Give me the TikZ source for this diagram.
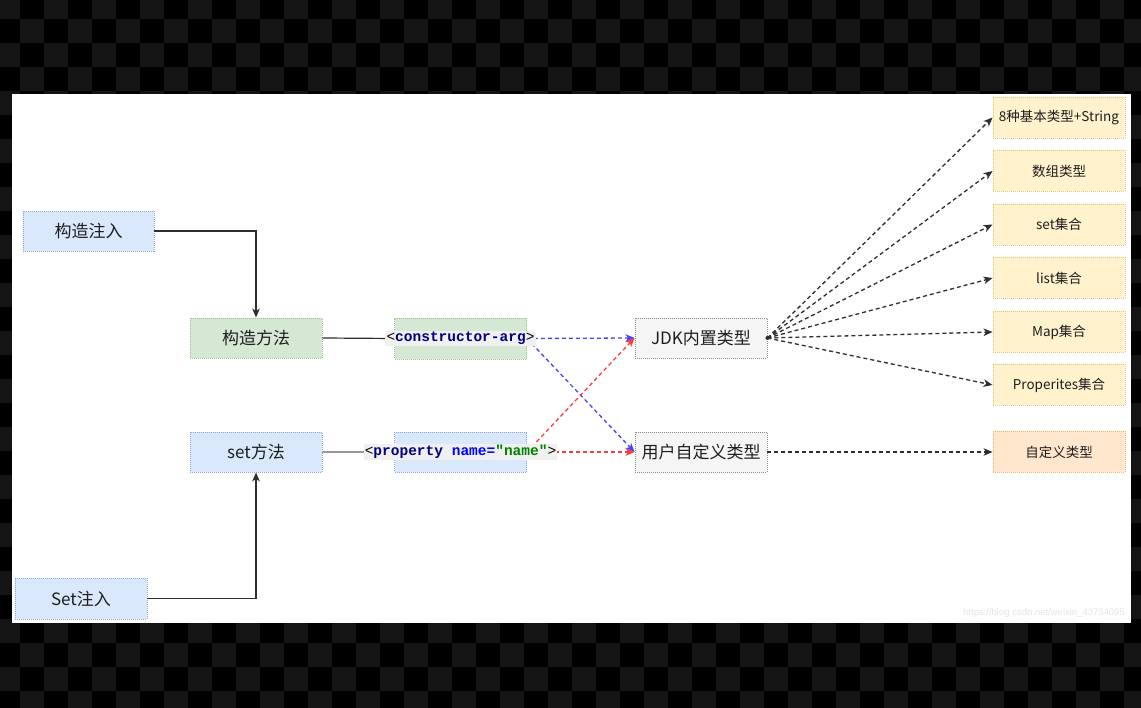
\documentclass[tikz,border=0pt]{standalone}
\usepackage{fontspec}
\setmainfont{Noto Sans CJK SC}
\newfontfamily\codefont{Liberation Mono}
\newfontfamily\webfont{Liberation Sans}
\usetikzlibrary{arrows.meta}

\definecolor{checkdark}{HTML}{000000}
\definecolor{checklight}{HTML}{141414}
\definecolor{bluefill}{HTML}{DAE8FC}
\definecolor{blueline}{HTML}{8EA9D6}
\definecolor{greenfill}{HTML}{D5E8D4}
\definecolor{greenline}{HTML}{9CC58A}
\definecolor{grayfill}{HTML}{F5F5F5}
\definecolor{grayline}{HTML}{8A8A8A}
\definecolor{yellowfill}{HTML}{FFF2CC}
\definecolor{yellowline}{HTML}{E3C878}
\definecolor{peachfill}{HTML}{FFE6CC}
\definecolor{peachline}{HTML}{EDB96A}
\definecolor{textc}{HTML}{1E1E1E}
\definecolor{linec}{HTML}{2E2E2E}
\definecolor{bluedashc}{HTML}{4444FF}
\definecolor{reddashc}{HTML}{FF3B3B}
\definecolor{codebg}{HTML}{F0F0F0}
\definecolor{codenavy}{HTML}{000080}
\definecolor{codeblue}{HTML}{0000FF}
\definecolor{codegreen}{HTML}{008000}
\definecolor{markc}{HTML}{E4E4E4}

\tikzset{
  box/.style={draw, line width=0.9pt, dash pattern=on 1pt off 1pt,
    minimum width=132pt, minimum height=40pt, inner sep=0pt,
    text=textc, font=\fontsize{17}{20}\selectfont},
  bluebox/.style={box, fill=bluefill, draw=blueline},
  greenbox/.style={box, fill=greenfill, draw=greenline},
  graybox/.style={box, fill=grayfill, draw=grayline},
  typebox/.style={box, fill=yellowfill, draw=yellowline, minimum height=41pt,
    font=\fontsize{13.5}{16}\selectfont},
  ownbox/.style={typebox, fill=peachfill, draw=peachline},
  codelabel/.style={fill=codebg, inner sep=1.2pt, text=black,
    font=\codefont\fontsize{14.5}{16}\selectfont},
  tip/.style={-{Stealth[length=9pt,width=7.5pt,inset=2.5pt]}},
  flow/.style={draw=linec, line width=1.3pt, tip},
  link/.style={draw=linec, line width=1.2pt},
  dashlink/.style={line width=1.3pt, dash pattern=on 4pt off 3pt, tip},
  bluedash/.style={dashlink, draw=bluedashc, -{Stealth[length=9pt,width=7.5pt,inset=2.5pt,fill=bluedashc]}},
  reddash/.style={dashlink, draw=reddashc, -{Stealth[length=9pt,width=7.5pt,inset=2.5pt,fill=reddashc]}},
  blackdash/.style={dashlink, draw=linec},
}

\begin{document}
\begin{tikzpicture}[x=1pt,y=-1pt]
\useasboundingbox (0,0) rectangle (1141,708);

% checkerboard backdrop
\fill[checkdark] (0,0) rectangle (1141,708);
\begin{scope}
  \clip (0,0) rectangle (1141,708);
  \foreach \i in {0,...,48} {
    \foreach \j in {0,...,30} {
      \pgfmathtruncatemacro\parity{mod(\i+\j,2)}
      \ifnum\parity=0
        \fill[checklight] (-4+24*\i,-5+24*\j) rectangle ++(24,24);
      \fi
    }
  }
\end{scope}

% white sheet
\fill[white] (12,94) rectangle (1131,623);

% injection styles
\node[bluebox, minimum width=131pt] (inj1) at (88.5,231) {构造注入};
\node[bluebox, minimum height=41pt] (inj2) at (81,598.5) {Set注入};

% methods
\node[greenbox] (m1) at (256,338) {构造方法};
\node[bluebox] (m2) at (256,452) {set方法};

% xml element boxes
\node[greenbox, minimum height=41pt] (c1) at (460.5,338.5) {};
\node[bluebox] (p1) at (460.5,452) {};

% type groups
\node[graybox] (jdk) at (701,338) {JDK内置类型};
\node[graybox] (user) at (701,452) {用户自定义类型};

% concrete types
\node[typebox] (r1) at (1059,117.5) {8种基本类型+String};
\node[typebox] (r2) at (1059,171) {数组类型};
\node[typebox] (r3) at (1059,224.5) {set集合};
\node[typebox] (r4) at (1059,278) {list集合};
\node[typebox] (r5) at (1059,332) {Map集合};
\node[typebox] (r6) at (1059,385) {Properites集合};
\node[ownbox] (r7) at (1059,452) {自定义类型};

% connectors
\draw[flow] (inj1.east) -| (m1.north);
\draw[flow] (inj2.east) -| (m2.south);
\draw[link] (m1.east) -- (c1.west);
\draw[link, draw=gray!80] (m2.east) -- (p1.west);

\draw[bluedash] (c1.east) -- (jdk.west);
\draw[bluedash] (c1.east) -- (user.west);
\draw[reddash] (p1.east) -- (user.west);
\draw[reddash] (p1.east) -- (jdk.west);

\foreach \t in {r1,r2,r3,r4,r5,r6}
  \draw[blackdash] (jdk.east) -- (\t.west);
\fill[linec] (jdk.east) circle (2pt);
\draw[blackdash] (user.east) -- (r7.west);

% xml labels
\node[codelabel] (c1lab) at (c1.center) {<\textbf{\textcolor{codenavy}{constructor-arg}}>};
\node[codelabel] (p1lab) at (p1.center) {<\textbf{\textcolor{codenavy}{property} \textcolor{codeblue}{name=}\textcolor{codegreen}{"name"}}>};

% footer link
\node[anchor=east, inner sep=0pt, text=markc, font=\webfont\fontsize{9.5}{11}\selectfont] (wm) at (1125,613) {https://blog.csdn.net/weixin\_43734095};
\end{tikzpicture}
\end{document}
